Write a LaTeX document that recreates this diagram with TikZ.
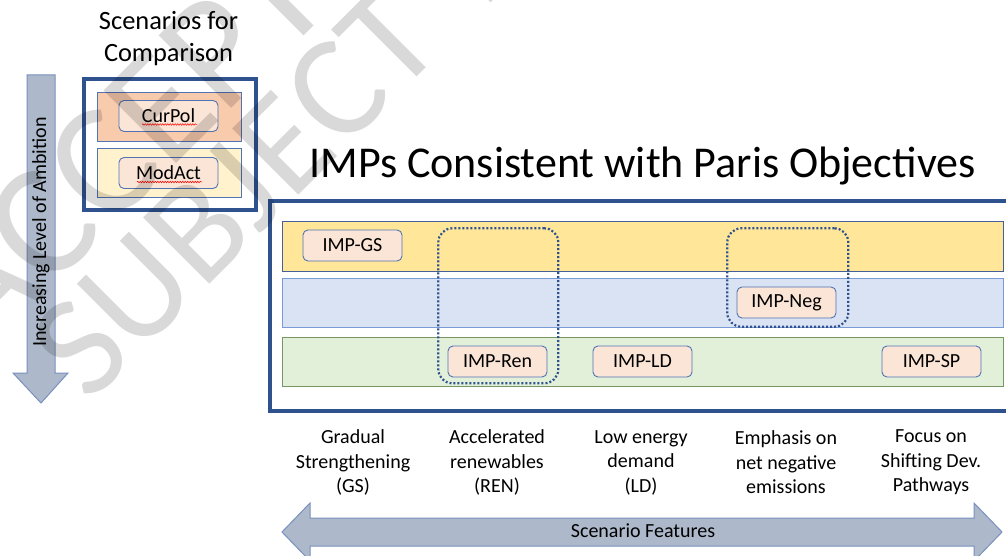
\documentclass[tikz,border=0pt]{standalone}
\usepackage{fontspec}
\setmainfont{Carlito}
\usetikzlibrary{decorations.pathmorphing}
\definecolor{frameblue}{RGB}{47,82,143}
\definecolor{nodeborder}{RGB}{80,115,180}
\definecolor{nodefill}{RGB}{251,229,214}
\definecolor{arrowfill}{RGB}{173,185,202}
\definecolor{arrowdraw}{RGB}{120,145,190}
\definecolor{peach}{RGB}{248,203,173}
\definecolor{lightyellow}{RGB}{255,242,204}
\definecolor{bandyellow}{RGB}{255,230,153}
\definecolor{bandblue}{RGB}{218,227,243}
\definecolor{bandgreen}{RGB}{226,240,217}
\definecolor{yellowedge}{RGB}{70,95,150}
\definecolor{blueedge}{RGB}{120,155,215}
\definecolor{greenedge}{RGB}{120,150,100}
\tikzset{
  impbox/.style={draw=nodeborder, fill=nodefill, rounded corners=5pt, line width=0.9pt,
    minimum width=99pt, minimum height=31pt, inner sep=0pt, font=\fontsize{20}{24}\selectfont},
  scenband/.style={draw=nodeborder, line width=0.9pt, minimum width=144pt, minimum height=49pt, inner sep=0pt},
  impband/.style={line width=1pt, minimum width=721pt, minimum height=49.5pt, inner sep=0pt},
  framebox/.style={draw=frameblue, line width=4pt, inner sep=0pt},
  groupbox/.style={draw=frameblue, line width=2.2pt, dash pattern=on 2pt off 2pt, rounded corners=14pt, inner sep=0pt},
  feature/.style={align=center, font=\fontsize{20}{24.5}\selectfont},
  bigarrow/.style={fill=arrowfill, draw=arrowdraw, line width=1pt, line join=miter},
  spell/.style={draw=red, line width=0.5pt, decorate, decoration={snake, amplitude=0.8pt, segment length=2.5pt}},
  watermark/.style={text=black, opacity=0.15, rotate=45, anchor=base west, inner sep=0pt}
}
\begin{document}
\begin{tikzpicture}[x=1pt,y=-1pt]
\clip (0,0) rectangle (1006,556);
\fill[white] (0,0) rectangle (1006,556);

% left: scenarios for comparison
\node[font=\fontsize{26.4}{32}\selectfont, align=center] (scenTitle) at (168.5,39) {Scenarios for\\Comparison};
\node[framebox, minimum width=172pt, minimum height=131pt] (scenFrame) at (170,144.5) {};
\node[scenband, fill=peach] (curBand) at (169,116.5) {};
\node[scenband, fill=lightyellow] (modBand) at (169,172.5) {};
\node[impbox] (curpol) at (168.5,116) {CurPol};
\node[impbox] (modact) at (168.5,173) {ModAct};
\draw[spell] ([xshift=-26.5pt,yshift=-8.5pt]curpol.center) -- ([xshift=28.5pt,yshift=-8.5pt]curpol.center);
\draw[spell] ([xshift=-31.5pt,yshift=-9pt]modact.center) -- ([xshift=33.5pt,yshift=-9pt]modact.center);

% vertical arrow
\draw[bigarrow] (27,75) -- (55,75) -- (55,373) -- (68,373) -- (41,403) -- (13,373) -- (27,373) -- cycle;
\node[rotate=90, font=\fontsize{20}{24}\selectfont] (ambition) at (41,232) {Increasing Level of Ambition};

% main title and frame
\node[font=\fontsize{44}{52}\selectfont] (mainTitle) at (642.5,166) {IMPs Consistent with Paris Objectives};
\node[framebox, minimum width=760.5pt, minimum height=209.5pt] (mainFrame) at (649.75,305.75) {};

\node[impband, draw=yellowedge, fill=bandyellow] (yBand) at (642.5,246.25) {};
\node[impband, draw=blueedge, fill=bandblue] (bBand) at (642.5,302.8) {};
\node[impband, draw=greenedge, fill=bandgreen] (gBand) at (642.5,362) {};

\node[groupbox, minimum width=120pt, minimum height=155pt] (renGroup) at (498.3,305.8) {};
\node[groupbox, minimum width=121pt, minimum height=98.4pt] (negGroup) at (787.8,277.5) {};

\node[impbox] (impGS) at (352.5,245.5) {IMP-GS};
\node[impbox] (impRen) at (497.5,361.5) {IMP-Ren};
\node[impbox] (impLD) at (642.5,361.5) {IMP-LD};
\node[impbox] (impNeg) at (786.5,302.5) {IMP-Neg};
\node[impbox] (impSP) at (931.5,361.5) {IMP-SP};

% features
\node[feature] (fGS) at (353,462.5) {Gradual\\Strengthening\\(GS)};
\node[feature] (fREN) at (497,462.5) {Accelerated\\renewables\\(REN)};
\node[feature] (fLD) at (641,462.5) {Low energy\\demand\\(LD)};
\node[feature] (fNeg) at (786,462.5) {Emphasis on\\net negative\\emissions};
\node[feature] (fSP) at (931,462.5) {Focus on\\Shifting Dev.\\Pathways};

% double arrow
\draw[bigarrow] (282,532) -- (310,503) -- (310,518) -- (974,518) -- (974,503) -- (1002,532) -- (974,561) -- (974,546) -- (310,546) -- (310,561) -- cycle;
\node[font=\fontsize{20}{24}\selectfont] (featLabel) at (643,531) {Scenario Features};

% watermark
\node[watermark, font=\fontsize{160}{160}\selectfont] (wm1) at (-17,357) {ACCEPTED VERSION};
\node[watermark, font=\fontsize{146}{146}\selectfont] (wm2) at (89,405) {SUBJECT TO FINAL EDITS};
\end{tikzpicture}
\end{document}
